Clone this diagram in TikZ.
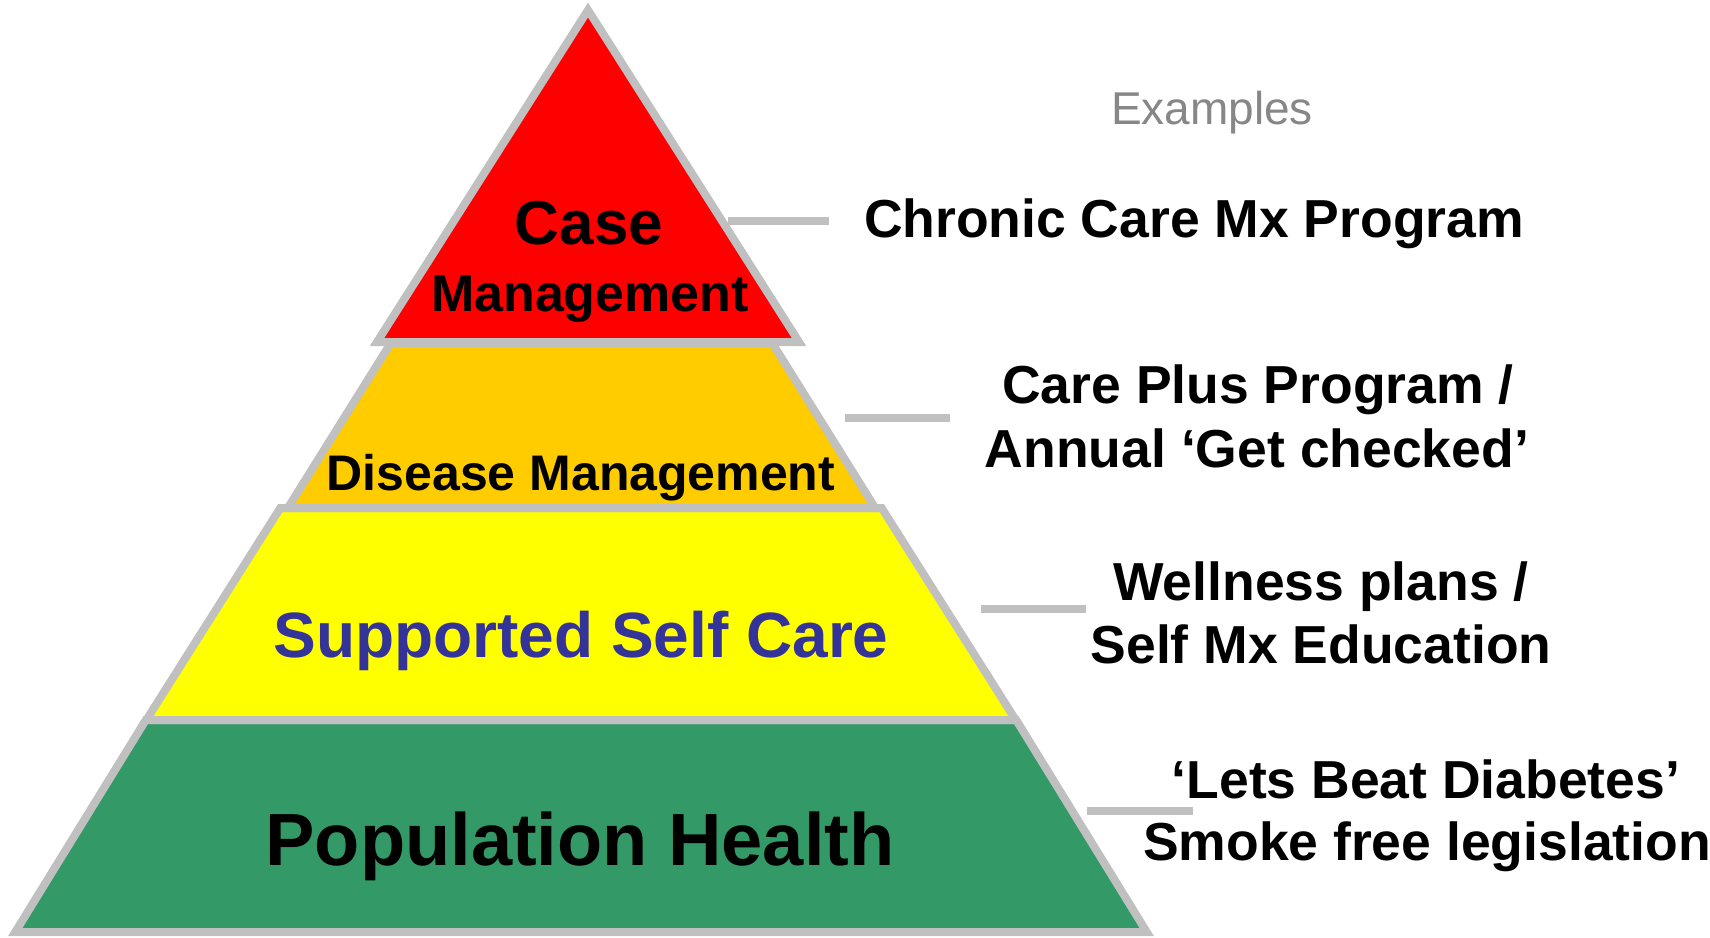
\documentclass[tikz,border=0pt]{standalone}
\usepackage{fontspec}
\setmainfont{Liberation Sans}
\definecolor{edge}{HTML}{C0C0C0}
\definecolor{pred}{HTML}{FF0000}
\definecolor{porange}{HTML}{FFCC00}
\definecolor{pyellow}{HTML}{FFFF00}
\definecolor{pgreen}{HTML}{339966}
\definecolor{pblue}{HTML}{333399}
\definecolor{exgray}{HTML}{878787}
\newcommand{\fs}[1]{\fontsize{#1}{#1}\selectfont}
\begin{document}
\begin{tikzpicture}[x=1pt,y=-1pt,
  layer/.style={draw=edge,line width=8pt,line join=miter},
  conn/.style={draw=edge,line width=8pt},
  lab/.style={anchor=base,inner sep=0pt,outer sep=0pt},
  ex/.style={lab,font=\bfseries\fs{53.5}}]
\useasboundingbox (0,0) rectangle (1710,937);
% pyramid layers
\path[layer,fill=pgreen] (15.3,932) -- (145.8,720) -- (1016.2,720) -- (1146.7,932) -- cycle;
\path[layer,fill=pyellow] (146.3,720) -- (280.3,508) -- (881.7,508) -- (1015.7,720) -- cycle;
\path[layer,fill=porange] (287.8,508) -- (390.8,343) -- (772.2,343) -- (875.2,508) -- cycle;
\path[layer,fill=pred] (377,342) -- (588,10) -- (799,342) -- cycle;
% layer labels
\node[lab,font=\bfseries\fs{62}] (case) at (589,244) {Case};
\node[lab,font=\bfseries\fs{52}] (mgmt) at (590,311) {Management};
\node[lab,font=\bfseries\fs{50}] (disease) at (581,490) {Disease Management};
\node[lab,font=\bfseries\fs{64},text=pblue] (selfcare) at (581,657) {Supported Self Care};
\node[lab,font=\bfseries\fs{74}] (pop) at (580,865) {Population Health};
% examples
\node[lab,font=\fs{46},text=exgray] (examples) at (1212,124) {Examples};
\node[lab,font=\bfseries\fs{53.5}] (ex1) at (1194,237) {Chronic Care Mx Program};
\node[ex] (ex2a) at (1258,403) {Care Plus Program /};
\node[ex] (ex2b) at (1257,467) {Annual ‘Get checked’};
\node[ex] (ex3a) at (1321,600) {Wellness plans /};
\node[ex] (ex3b) at (1321,663) {Self Mx Education};
\node[ex] (ex4a) at (1426,798) {‘Lets Beat Diabetes’};
\node[ex] (ex4b) at (1427,860) {Smoke free legislation};
% connectors
\coordinate (c1a) at (728,221); \coordinate (c1b) at (829,221);
\coordinate (c2a) at (845,418); \coordinate (c2b) at (950,418);
\coordinate (c3a) at (981,609); \coordinate (c3b) at (1086,609);
\coordinate (c4a) at (1087,811); \coordinate (c4b) at (1193,811);
\draw[conn] (c1a) -- (c1b);
\draw[conn] (c2a) -- (c2b);
\draw[conn] (c3a) -- (c3b);
\draw[conn] (c4a) -- (c4b);
\end{tikzpicture}
\end{document}
